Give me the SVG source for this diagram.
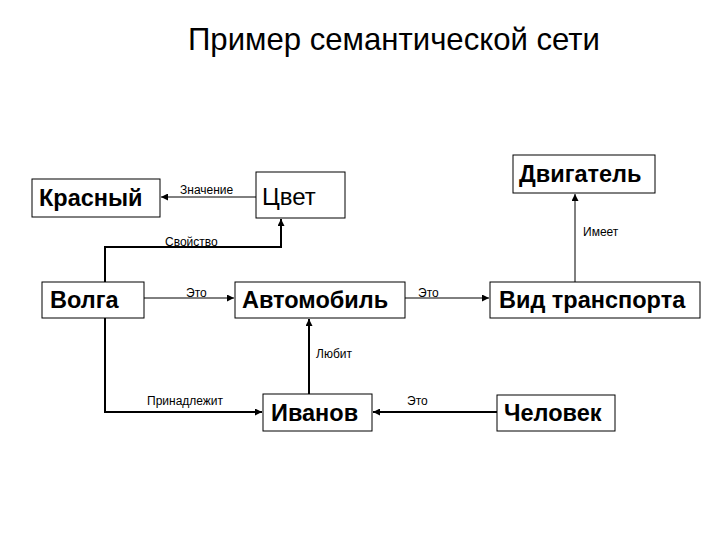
<svg xmlns="http://www.w3.org/2000/svg" width="720" height="540" viewBox="0 0 720 540">
<style>
.box{fill:#fff;stroke:#000;stroke-width:1}
.n{font-family:"Liberation Sans",Arial,sans-serif;font-size:23.5px;font-weight:bold;fill:#000}
.r{font-family:"Liberation Sans",Arial,sans-serif;font-size:24px;fill:#000}
.l{font-family:"Liberation Sans",Arial,sans-serif;font-size:12px;fill:#000}
.c{fill:none;stroke:#000;stroke-width:1}
.t{fill:none;stroke:#000;stroke-width:2}
.title{font-family:"Liberation Sans",Arial,sans-serif;font-size:32px;fill:#000}
</style>
<defs>
<marker id="a" viewBox="0 0 10 10" refX="10" refY="5" markerWidth="7" markerHeight="7" markerUnits="userSpaceOnUse" orient="auto"><path d="M0,0L10,5L0,10z" fill="#000"/></marker>
</defs>
<text class="title" x="188" y="50" textLength="412" lengthAdjust="spacingAndGlyphs">Пример семантической сети</text>
<g id="connectors">
<path class="c" d="M256,197H161" marker-end="url(#a)"/>
<path class="t" d="M105,282V247H281V219" marker-end="url(#a)"/>
<path class="c" d="M575,282V194" marker-end="url(#a)"/>
<path class="c" d="M144,298H234" marker-end="url(#a)"/>
<path class="c" d="M405,298H489" marker-end="url(#a)"/>
<path class="t" d="M309,394V319" marker-end="url(#a)"/>
<path class="t" d="M105,318V412H262" marker-end="url(#a)"/>
<path class="t" d="M497,412H373" marker-end="url(#a)"/>
<text class="l" x="180" y="194">Значение</text>
<text class="l" x="165" y="246">Свойство</text>
<text class="l" x="583" y="236">Имеет</text>
<text class="l" x="186" y="297">Это</text>
<text class="l" x="418" y="297">Это</text>
<text class="l" x="316" y="358">Любит</text>
<text class="l" x="147" y="405">Принадлежит</text>
<text class="l" x="407" y="405">Это</text>
</g>
<g id="krasny"><rect class="box" x="32" y="179" width="128" height="38"/><text class="n" x="39" y="206">Красный</text></g>
<g id="tsvet"><rect class="box" x="256" y="172" width="89" height="46"/><text class="r" x="262" y="205">Цвет</text></g>
<g id="dvigatel"><rect class="box" x="513" y="155" width="142" height="38"/><text class="n" x="519" y="182">Двигатель</text></g>
<g id="volga"><rect class="box" x="42" y="282" width="102" height="36"/><text class="n" x="50" y="308">Волга</text></g>
<g id="avtomobil"><rect class="box" x="235" y="282" width="170" height="36"/><text class="n" x="242" y="308">Автомобиль</text></g>
<g id="vid"><rect class="box" x="490" y="282" width="210" height="36"/><text class="n" x="499" y="308">Вид транспорта</text></g>
<g id="ivanov"><rect class="box" x="263" y="394" width="109" height="37"/><text class="n" x="271" y="421">Иванов</text></g>
<g id="chelovek"><rect class="box" x="497" y="395" width="118" height="36"/><text class="n" x="504" y="421">Человек</text></g>
</svg>
